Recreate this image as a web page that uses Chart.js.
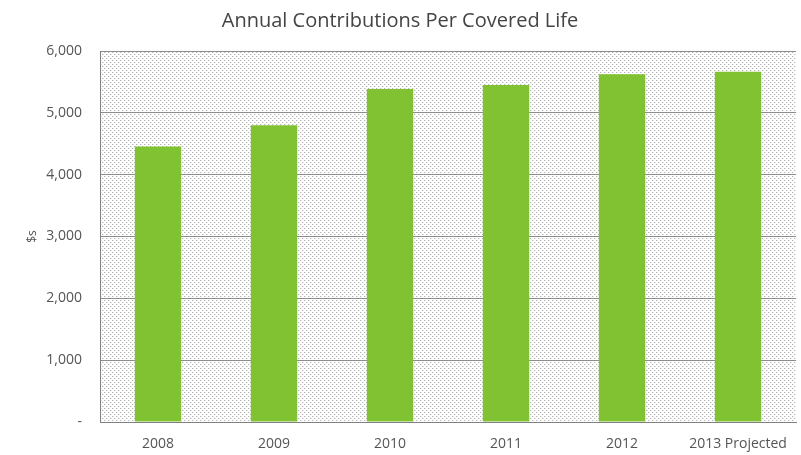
<!DOCTYPE html>
<html>
<head>
<meta charset="utf-8">
<title>Annual Contributions Per Covered Life</title>
<script src="https://cdn.jsdelivr.net/npm/chart.js@4.4.0/dist/chart.umd.min.js"></script>
<style>
    html, body { margin: 0; padding: 0; background: #ffffff; }
    #chart { display: block; }
</style>
</head>
<body>
<canvas id="chart" width="801" height="455"></canvas>
<script>
// contribution per covered life, in dollars
const years = ['2008', '2009', '2010', '2011', '2012', '2013 Projected'];
const contributions = [4455, 4800, 5385, 5450, 5625, 5665];
const yTicks = [0, 1000, 2000, 3000, 4000, 5000, 6000];

// small dotted tile used to fill the plot area
function makeDotPattern(ctx) {
    const tile = document.createElement('canvas');
    tile.width = 4;
    tile.height = 4;
    const t = tile.getContext('2d');
    t.fillStyle = '#ffffff';
    t.fillRect(0, 0, 4, 4);
    t.fillStyle = '#b4b4b4';
    t.fillRect(0, 0, 1, 1);
    t.fillRect(2, 2, 1, 1);
    t.fillStyle = '#e6e6e6';
    t.fillRect(1, 0, 1, 1);
    t.fillRect(3, 2, 1, 1);
    return ctx.createPattern(tile, 'repeat');
}

const dottedBackground = {
    id: 'dottedBackground',
    beforeDraw(chart) {
        const { ctx, chartArea } = chart;
        ctx.save();
        ctx.fillStyle = makeDotPattern(ctx);
        ctx.fillRect(chartArea.left, chartArea.top,
            chartArea.right - chartArea.left, chartArea.bottom - chartArea.top);
        ctx.restore();
    }
};

new Chart('chart', {
    type: 'bar',
    data: {
        labels: years,
        datasets: [{
            label: 'Contributions',
            data: contributions,
            backgroundColor: '#80c232',
            borderWidth: 0,
            categoryPercentage: 1,
            barPercentage: 0.4
        }]
    },
    options: {
        responsive: false,
        animation: false,
        layout: {
            padding: { left: 0, right: 1, top: 0, bottom: 0 }
        },
        plugins: {
            legend: { display: false },
            tooltip: { enabled: false },
            title: {
                display: true,
                text: 'Annual Contributions Per Covered Life',
                color: '#444444',
                font: { family: 'Open Sans', size: 20, weight: 'normal' },
                padding: { top: 9, bottom: 18 }
            }
        },
        scales: {
            x: {
                grid: { display: false, drawTicks: false },
                border: { display: true, color: '#808080', width: 1 },
                ticks: {
                    color: '#555555',
                    font: { family: 'Open Sans', size: 14 },
                    padding: 14,
                    maxRotation: 0
                },
                afterFit(scale) { scale.height = 33; }
            },
            y: {
                min: 0,
                max: 6000,
                afterBuildTicks(scale) {
                    scale.ticks = yTicks.map(v => ({ value: v }));
                },
                grid: { color: '#8c8c8c', lineWidth: 1, drawTicks: false },
                border: { display: true, color: '#808080', width: 1 },
                ticks: {
                    color: '#555555',
                    font: { family: 'Open Sans', size: 14 },
                    padding: 18,
                    callback: v => v === 0 ? '-' : v.toLocaleString('en-US')
                },
                title: {
                    display: true,
                    text: '$s',
                    color: '#555555',
                    font: { family: 'Open Sans', size: 12 },
                    padding: { top: 25, bottom: 0 }
                },
                afterFit(scale) { scale.width = 100; }
            }
        }
    },
    plugins: [dottedBackground]
});
</script>
</body>
</html>
